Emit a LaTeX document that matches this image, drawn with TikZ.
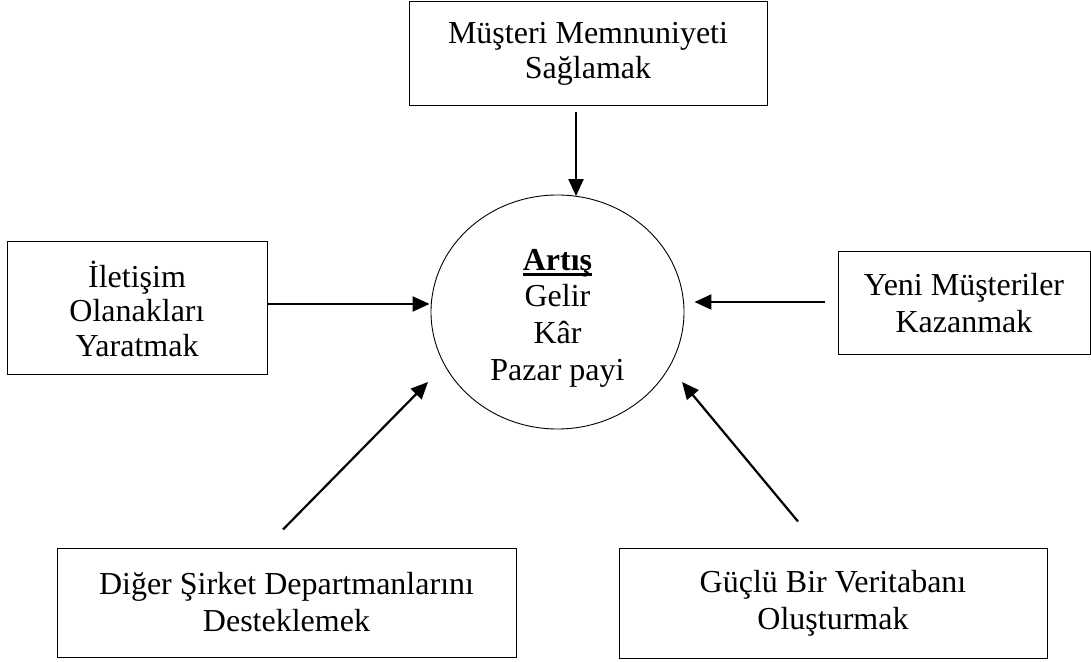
\documentclass[tikz,border=0pt]{standalone}
\usepackage{fontspec}
\setmainfont{Liberation Serif}
\usetikzlibrary{arrows.meta,shapes.geometric}
\newcommand\myul[1]{\setbox0\hbox{#1}\rlap{\rule[-5.5pt]{\wd0}{3pt}}\box0}
\begin{document}
\begin{tikzpicture}[x=1pt,y=1pt,
  box/.style={draw=black, line width=1pt, rectangle, inner sep=0pt, align=center,
    font=\fontsize{32}{34.5}\selectfont},
  boxw/.style={box, font=\fontsize{32}{37}\selectfont},
  arr/.style={line width=2.2pt, -{Triangle[length=17pt,width=15pt]}},
  oval/.style={draw=black, line width=0.9pt, ellipse, inner sep=0pt},
  ctext/.style={inner sep=0pt, align=center, font=\fontsize{32}{36.7}\selectfont}]
\useasboundingbox (0,0) rectangle (1091,661);

\node[box, minimum width=358pt, minimum height=104pt] (top) at (588,607) {Müşteri Memnuniyeti\\Sağlamak};
\node[box, minimum width=260pt, minimum height=133pt] (left) at (137,352.5) {İletişim\\Olanakları\\Yaratmak};
\node[boxw, minimum width=252pt, minimum height=103pt] (right) at (964,357.5) {Yeni Müşteriler\\Kazanmak};
\node[boxw, minimum width=459pt, minimum height=109pt] (bl) at (286.5,58.5) {Diğer Şirket Departmanlarını\\Desteklemek};
\node[boxw, minimum width=428pt, minimum height=110pt] (br) at (833,58) {Güçlü Bir Veritabanı\\Oluşturmak};

\node[oval, minimum width=253pt, minimum height=234pt] (c) at (557.5,349) {};
\node[ctext] (ct) at (557.5,343) {\myul{\textbf{Artış}}\\Gelir\\Kâr\\Pazar payi};

\draw[arr] ([xshift=-12pt,yshift=-6pt]top.south) -- ([xshift=18.5pt,yshift=-1.5pt]c.north);
\draw[arr] ([yshift=4.5pt]left.east) -- ([xshift=-1pt,yshift=8pt]c.west);
\draw[arr] ([xshift=-13pt,yshift=1.5pt]right.west) -- ([xshift=10pt,yshift=10pt]c.east);
\draw[arr] ([xshift=-3.5pt,yshift=18pt]bl.north) -- ([xshift=-129.5pt,yshift=-70pt]c.center);
\draw[arr] ([xshift=-35pt,yshift=26pt]br.north) -- ([xshift=124.5pt,yshift=-70pt]c.center);
\end{tikzpicture}
\end{document}
